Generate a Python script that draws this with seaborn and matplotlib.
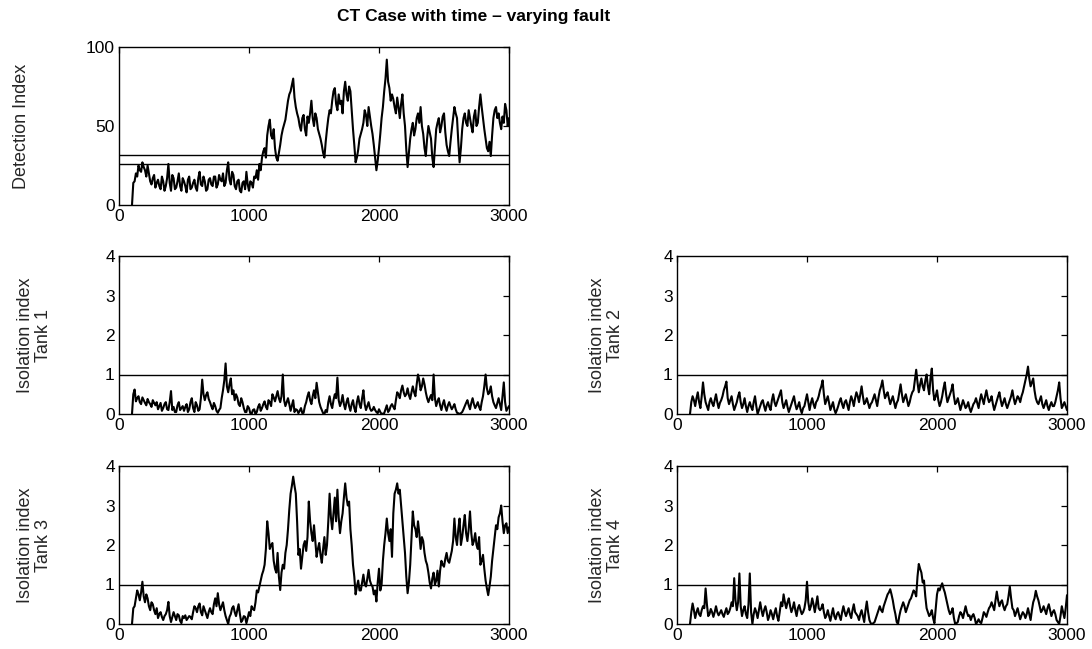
import numpy as np
import pandas as pd
import matplotlib
matplotlib.use("Agg")
import matplotlib.pyplot as plt
import seaborn as sns

# sample index of the stored values: one value every 20 samples plus one
# in between (the other side of the noise band)
samples = np.arange(100, 3001, 20)
mid_samples = np.arange(110, 3000, 20)

detection = [
    0, 15, 18, 22, 27, 22, 25, 15, 17, 11,
    16, 10, 15, 12, 26, 9, 17, 11, 20, 9,
    15, 8, 18, 11, 16, 9, 21, 12, 15, 10,
    17, 12, 18, 13, 16, 20, 14, 27, 13, 19,
    10, 16, 8, 15, 21, 9, 14, 18, 22, 26,
    30, 36, 44, 54, 42, 36, 28, 38, 48, 54,
    66, 72, 80, 62, 55, 47, 57, 44, 52, 66,
    50, 55, 45, 38, 30, 48, 60, 66, 74, 60,
    64, 58, 78, 66, 72, 48, 27, 35, 45, 52,
    57, 62, 50, 38, 22, 36, 55, 72, 92, 74,
    70, 62, 68, 55, 70, 50, 24, 42, 52, 48,
    58, 62, 45, 31, 50, 42, 24, 48, 55, 50,
    58, 38, 31, 48, 62, 55, 27, 48, 58, 50,
    55, 46, 60, 52, 70, 55, 42, 34, 31, 55,
    62, 58, 48, 52, 60, 55,
]
detection_mid = [
    14, 20, 25, 21, 24, 18, 20, 13, 19, 14,
    12, 18, 9, 17, 14, 19, 10, 15, 12, 17,
    12, 16, 10, 14, 11, 17, 13, 18, 9, 16,
    13, 18, 11, 19, 15, 12, 22, 16, 21, 12,
    15, 9, 14, 10, 13, 15, 11, 17, 16, 22,
    34, 30, 50, 44, 48, 30, 33, 44, 51, 60,
    70, 76, 68, 58, 50, 55, 48, 56, 58, 55,
    58, 48, 42, 33, 40, 55, 58, 72, 64, 70,
    66, 72, 70, 75, 60, 38, 30, 42, 48, 60,
    50, 56, 45, 30, 28, 45, 62, 80, 78, 66,
    67, 58, 62, 64, 58, 35, 33, 48, 44, 55,
    52, 50, 36, 42, 46, 30, 36, 52, 46, 56,
    46, 34, 40, 55, 58, 40, 36, 55, 52, 60,
    50, 56, 50, 62, 62, 48, 36, 40, 44, 60,
    55, 52, 56, 64, 50,
]
detection_limits = [31.8, 25.8]

tank1 = [
    0, 0.62, 0.40, 0.30, 0.42, 0.28, 0.38, 0.25, 0.35, 0.22,
    0.12, 0.28, 0.15, 0.30, 0.10, 0.58, 0.18, 0.05, 0.30, 0.15,
    0.08, 0.25, 0.12, 0.40, 0.05, 0.22, 0.12, 0.87, 0.35, 0.55,
    0.30, 0.12, 0.20, 0.03, 0.15, 0.60, 1.28, 0.55, 0.90, 0.60,
    0.50, 0.25, 0.40, 0.15, 0.05, 0.15, 0.00, 0.12, 0.05, 0.25,
    0.15, 0.32, 0.12, 0.30, 0.50, 0.32, 0.58, 0.30, 1.00, 0.20,
    0.40, 0.08, 0.35, 0.12, 0.02, 0.15, 0.03, 0.30, 0.55, 0.25,
    0.60, 0.79, 0.30, 0.10, 0.00, 0.05, 0.45, 0.15, 0.50, 0.92,
    0.20, 0.48, 0.12, 0.40, 0.08, 0.35, 0.05, 0.45, 0.15, 0.60,
    0.10, 0.30, 0.08, 0.18, 0.05, 0.12, 0.00, 0.02, 0.22, 0.10,
    0.25, 0.12, 0.55, 0.40, 0.72, 0.45, 0.65, 0.38, 0.70, 0.45,
    1.00, 0.60, 0.90, 0.55, 0.30, 0.48, 1.00, 0.20, 0.40, 0.10,
    0.35, 0.08, 0.30, 0.12, 0.25, 0.03, 0.00, 0.05, 0.20, 0.35,
    0.12, 0.40, 0.15, 0.30, 0.10, 0.45, 1.00, 0.50, 0.70, 0.30,
    0.15, 0.40, 0.10, 0.80, 0.08, 0.20,
]
tank1_mid = [
    0.50, 0.32, 0.45, 0.25, 0.35, 0.22, 0.30, 0.18, 0.28, 0.30,
    0.20, 0.08, 0.25, 0.12, 0.30, 0.10, 0.05, 0.22, 0.10, 0.20,
    0.18, 0.05, 0.30, 0.15, 0.30, 0.08, 0.40, 0.50, 0.48, 0.38,
    0.20, 0.28, 0.08, 0.10, 0.40, 0.85, 0.70, 0.75, 0.50, 0.35,
    0.42, 0.20, 0.30, 0.05, 0.20, 0.02, 0.10, 0.00, 0.18, 0.08,
    0.25, 0.18, 0.35, 0.20, 0.42, 0.45, 0.40, 0.45, 0.35, 0.30,
    0.25, 0.22, 0.05, 0.10, 0.08, 0.02, 0.20, 0.45, 0.35, 0.45,
    0.40, 0.55, 0.18, 0.02, 0.10, 0.30, 0.25, 0.35, 0.40, 0.35,
    0.30, 0.25, 0.30, 0.20, 0.25, 0.15, 0.30, 0.25, 0.40, 0.25,
    0.20, 0.15, 0.10, 0.10, 0.02, 0.05, 0.01, 0.12, 0.05, 0.20,
    0.18, 0.35, 0.50, 0.60, 0.55, 0.50, 0.48, 0.55, 0.55, 0.75,
    0.85, 0.70, 0.75, 0.40, 0.40, 0.35, 0.40, 0.32, 0.22, 0.25,
    0.18, 0.22, 0.20, 0.18, 0.12, 0.02, 0.02, 0.12, 0.28, 0.22,
    0.28, 0.25, 0.22, 0.18, 0.30, 0.70, 0.65, 0.55, 0.45, 0.22,
    0.28, 0.25, 0.45, 0.30, 0.14,
]

tank2 = [
    0, 0.45, 0.20, 0.55, 0.15, 0.80, 0.30, 0.10, 0.40, 0.20,
    0.50, 0.15, 0.35, 0.60, 0.82, 0.25, 0.45, 0.10, 0.30, 0.55,
    0.15, 0.40, 0.05, 0.30, 0.10, 0.45, 0.00, 0.20, 0.35, 0.08,
    0.30, 0.10, 0.50, 0.20, 0.40, 0.60, 0.15, 0.35, 0.05, 0.25,
    0.45, 0.12, 0.30, 0.02, 0.20, 0.50, 0.10, 0.40, 0.15, 0.35,
    0.60, 0.85, 0.25, 0.45, 0.10, 0.30, 0.02, 0.20, 0.40, 0.15,
    0.35, 0.10, 0.45, 0.20, 0.55, 0.30, 0.70, 0.25, 0.40, 0.15,
    0.30, 0.50, 0.20, 0.60, 0.85, 0.40, 0.55, 0.25, 0.45, 0.15,
    0.35, 0.75, 0.30, 0.50, 0.20, 0.45, 0.60, 1.12, 0.55, 0.90,
    0.60, 1.00, 0.50, 1.15, 0.35, 0.60, 0.20, 0.45, 0.80, 0.30,
    0.50, 0.75, 0.25, 0.40, 0.10, 0.35, 0.15, 0.30, 0.05, 0.25,
    0.40, 0.15, 0.50, 0.25, 0.60, 0.30, 0.45, 0.10, 0.35, 0.55,
    0.20, 0.40, 0.15, 0.35, 0.60, 0.25, 0.45, 0.30, 0.55, 0.85,
    1.20, 0.70, 0.90, 0.40, 0.25, 0.45, 0.15, 0.35, 0.10, 0.30,
    0.20, 0.45, 0.80, 0.15, 0.30, 0.10,
]
tank2_mid = [
    0.30, 0.35, 0.40, 0.30, 0.45, 0.50, 0.20, 0.30, 0.28, 0.35,
    0.30, 0.28, 0.45, 0.70, 0.40, 0.35, 0.25, 0.20, 0.45, 0.30,
    0.25, 0.20, 0.20, 0.18, 0.30, 0.20, 0.10, 0.30, 0.20, 0.22,
    0.18, 0.35, 0.30, 0.30, 0.50, 0.30, 0.25, 0.18, 0.15, 0.35,
    0.25, 0.20, 0.12, 0.15, 0.35, 0.30, 0.28, 0.25, 0.30, 0.45,
    0.70, 0.50, 0.35, 0.28, 0.20, 0.12, 0.10, 0.32, 0.25, 0.30,
    0.22, 0.30, 0.35, 0.40, 0.45, 0.50, 0.45, 0.30, 0.28, 0.25,
    0.40, 0.35, 0.42, 0.70, 0.60, 0.48, 0.40, 0.35, 0.30, 0.28,
    0.55, 0.50, 0.40, 0.35, 0.30, 0.55, 0.85, 0.80, 0.75, 0.70,
    0.85, 0.70, 0.90, 0.60, 0.45, 0.35, 0.30, 0.65, 0.50, 0.40,
    0.60, 0.45, 0.30, 0.25, 0.22, 0.25, 0.20, 0.15, 0.15, 0.30,
    0.28, 0.35, 0.38, 0.45, 0.42, 0.35, 0.25, 0.22, 0.45, 0.35,
    0.30, 0.25, 0.25, 0.45, 0.40, 0.35, 0.40, 0.45, 0.70, 1.00,
    0.90, 0.80, 0.60, 0.30, 0.35, 0.25, 0.25, 0.20, 0.22, 0.20,
    0.30, 0.60, 0.40, 0.22, 0.20,
]

tank3 = [
    0.00, 0.45, 0.85, 0.60, 1.07, 0.55, 0.65, 0.35, 0.50, 0.25,
    0.15, 0.30, 0.10, 0.25, 0.56, 0.05, 0.30, 0.10, 0.22, 0.02,
    0.15, 0.10, 0.20, 0.12, 0.45, 0.30, 0.52, 0.22, 0.35, 0.15,
    0.40, 0.25, 0.65, 0.78, 0.35, 0.55, 0.20, 0.00, 0.25, 0.45,
    0.20, 0.50, 0.05, 0.20, 0.02, 0.30, 0.45, 0.35, 0.85, 0.95,
    1.25, 1.50, 2.60, 1.90, 2.05, 1.40, 1.80, 0.86, 1.50, 1.80,
    2.40, 3.30, 3.73, 3.30, 1.75, 1.40, 2.00, 1.85, 3.10, 2.30,
    2.50, 1.70, 2.05, 1.55, 2.20, 2.00, 3.30, 2.40, 3.20, 3.40,
    2.30, 2.80, 3.56, 3.00, 2.40, 1.50, 0.75, 1.10, 0.85, 1.25,
    0.95, 1.37, 1.00, 0.75, 0.57, 1.40, 1.00, 2.00, 2.67, 2.10,
    1.70, 3.30, 3.56, 3.40, 2.60, 1.80, 0.78, 1.50, 2.85, 2.40,
    2.60, 1.90, 2.10, 1.60, 1.30, 0.90, 1.30, 1.10, 0.95, 1.60,
    1.45, 1.80, 1.55, 1.85, 2.67, 2.00, 2.67, 2.20, 2.76, 2.10,
    2.85, 2.00, 2.30, 1.90, 1.50, 1.75, 1.10, 0.73, 1.20, 1.90,
    2.50, 2.70, 3.00, 2.30, 2.55, 2.45,
]
tank3_mid = [
    0.40, 0.65, 0.75, 0.80, 0.70, 0.75, 0.45, 0.55, 0.35, 0.40,
    0.25, 0.18, 0.20, 0.35, 0.20, 0.18, 0.20, 0.25, 0.08, 0.20,
    0.22, 0.15, 0.18, 0.30, 0.40, 0.45, 0.30, 0.45, 0.25, 0.30,
    0.30, 0.50, 0.45, 0.50, 0.45, 0.35, 0.10, 0.18, 0.40, 0.30,
    0.35, 0.25, 0.10, 0.18, 0.15, 0.20, 0.38, 0.55, 0.80, 1.10,
    1.35, 1.90, 2.30, 2.00, 1.60, 1.30, 1.20, 1.30, 1.40, 2.00,
    2.90, 3.50, 3.50, 2.60, 1.90, 1.70, 2.10, 2.20, 2.60, 2.10,
    2.10, 1.90, 1.75, 1.90, 1.75, 2.60, 2.70, 2.80, 2.60, 2.70,
    2.60, 3.20, 3.20, 3.10, 2.00, 1.20, 0.95, 0.85, 1.05, 1.00,
    1.15, 1.10, 0.95, 0.85, 1.05, 0.85, 1.60, 2.30, 2.30, 2.40,
    2.80, 3.40, 3.30, 3.00, 2.20, 1.20, 1.05, 2.20, 2.50, 2.20,
    2.30, 2.20, 1.80, 1.50, 1.05, 1.15, 1.00, 1.35, 1.35, 1.50,
    1.65, 1.60, 1.70, 2.10, 2.20, 2.40, 2.00, 2.50, 2.30, 2.40,
    2.30, 2.10, 2.00, 2.20, 1.60, 1.40, 0.90, 0.95, 1.60, 2.20,
    2.40, 2.80, 2.60, 2.50, 2.30,
]

tank4 = [
    0.00, 0.52, 0.15, 0.40, 0.20, 0.45, 0.90, 0.20, 0.38, 0.18,
    0.45, 0.22, 0.35, 0.18, 0.40, 0.30, 0.55, 1.16, 0.35, 1.28,
    0.20, 0.45, 0.15, 1.28, 0.00, 0.40, 0.15, 0.55, 0.20, 0.45,
    0.10, 0.35, 0.12, 0.40, 0.08, 0.55, 0.75, 0.40, 0.65, 0.30,
    0.55, 0.20, 0.48, 0.25, 0.40, 1.07, 0.35, 0.65, 0.30, 0.70,
    0.35, 0.50, 0.15, 0.35, 0.08, 0.40, 0.12, 0.30, 0.10, 0.45,
    0.20, 0.40, 0.15, 0.50, 0.25, 0.10, 0.35, 0.05, 0.57, 0.10,
    0.00, 0.05, 0.25, 0.45, 0.30, 0.55, 0.75, 0.88, 0.60, 0.25,
    0.00, 0.35, 0.55, 0.30, 0.50, 0.65, 0.85, 0.70, 1.52, 1.30,
    1.10, 0.40, 0.20, 0.35, 0.02, 0.75, 0.85, 1.03, 0.80, 0.50,
    0.25, 0.40, 0.00, 0.05, 0.30, 0.15, 0.45, 0.20, 0.10, 0.25,
    0.00, 0.12, 0.02, 0.30, 0.18, 0.40, 0.55, 0.35, 0.82, 0.45,
    0.60, 0.35, 0.50, 0.95, 0.40, 0.20, 0.40, 0.12, 0.30, 0.15,
    0.40, 0.10, 0.55, 0.84, 0.60, 0.30, 0.45, 0.25, 0.50, 0.20,
    0.35, 0.10, 0.00, 0.45, 0.15, 0.73,
]
tank4_mid = [
    0.30, 0.35, 0.30, 0.25, 0.35, 0.40, 0.50, 0.25, 0.30, 0.30,
    0.30, 0.28, 0.25, 0.30, 0.25, 0.40, 0.45, 0.60, 0.55, 0.45,
    0.35, 0.25, 0.50, 0.30, 0.25, 0.30, 0.35, 0.35, 0.35, 0.30,
    0.20, 0.25, 0.28, 0.20, 0.30, 0.45, 0.55, 0.55, 0.45, 0.40,
    0.35, 0.40, 0.35, 0.30, 0.60, 0.55, 0.45, 0.50, 0.50, 0.40,
    0.40, 0.30, 0.22, 0.20, 0.25, 0.20, 0.25, 0.20, 0.30, 0.30,
    0.30, 0.25, 0.35, 0.30, 0.20, 0.25, 0.20, 0.35, 0.30, 0.02,
    0.02, 0.15, 0.35, 0.35, 0.45, 0.65, 0.80, 0.75, 0.40, 0.05,
    0.20, 0.45, 0.45, 0.40, 0.60, 0.75, 0.80, 1.20, 1.40, 1.05,
    0.70, 0.30, 0.25, 0.15, 0.40, 0.90, 0.95, 0.90, 0.65, 0.35,
    0.30, 0.15, 0.02, 0.20, 0.25, 0.30, 0.30, 0.22, 0.20, 0.15,
    0.05, 0.05, 0.15, 0.25, 0.30, 0.45, 0.45, 0.60, 0.60, 0.55,
    0.45, 0.45, 0.70, 0.65, 0.35, 0.30, 0.25, 0.22, 0.25, 0.25,
    0.25, 0.35, 0.65, 0.70, 0.45, 0.35, 0.35, 0.40, 0.35, 0.30,
    0.25, 0.05, 0.20, 0.30, 0.40,
]
isolation_limit = 1.0

x_ticks = [0, 1000, 2000, 3000]
title_text = "CT Case with time \u2013 varying fault"
detection_label = "Detection Index"
tank_labels = ["Isolation index\nTank 1", "Isolation index\nTank 2",
               "Isolation index\nTank 3", "Isolation index\nTank 4"]

sns.set_theme(style="white")
plt.rcParams["font.family"] = ["Liberation Sans", "DejaVu Sans"]
plt.rcParams["axes.edgecolor"] = "black"
plt.rcParams["axes.linewidth"] = 1.0

W, H = 1092, 649
fig = plt.figure(figsize=(W / 100, H / 100), dpi=100)
fig.patch.set_facecolor("white")


def rect(x0, y0, x1, y1):
    return [x0 / W, 1 - y1 / H, (x1 - x0) / W, (y1 - y0) / H]


label_font = dict(family=["Liberation Sans Narrow", "Liberation Sans", "DejaVu Sans"],
                  fontsize=13)


def style_axes(ax, ylim, yticks):
    ax.set_xlim(0, 3000)
    ax.set_ylim(*ylim)
    ax.set_xticks(x_ticks)
    ax.set_yticks(yticks)
    ax.tick_params(direction="in", top=True, right=True, length=4, width=0.9,
                   labelsize=12.5, colors="black", pad=3)
    for s in ax.spines.values():
        s.set_visible(True)
        s.set_color("black")
        s.set_linewidth(1.0)
    ax.set_xlabel("")


def draw_series(ax, values, mid_values):
    df = pd.DataFrame({
        "sample": np.concatenate([samples, mid_samples]),
        "value": np.concatenate([values, mid_values]),
    }).sort_values("sample")
    sns.lineplot(data=df, x="sample", y="value", ax=ax, color="black",
                 linewidth=1.5, estimator=None, legend=False)


# detection index
ax0 = fig.add_axes(rect(119, 47, 509, 205))
draw_series(ax0, detection, detection_mid)
for lim in detection_limits:
    ax0.axhline(lim, color="black", linewidth=1.0)
style_axes(ax0, (0, 100), [0, 50, 100])
ax0.set_ylabel(detection_label, **label_font)
ax0.yaxis.set_label_coords(-0.229, 0.5)

# isolation indices
boxes = [(119, 256, 509, 414), (677, 256, 1067, 414),
         (119, 466, 509, 624), (677, 466, 1067, 624)]
label_x = [-0.172, -0.136, -0.172, -0.136]
series = [(tank1, tank1_mid), (tank2, tank2_mid),
          (tank3, tank3_mid), (tank4, tank4_mid)]
for box, (values, mids), lab, lx in zip(boxes, series, tank_labels, label_x):
    ax = fig.add_axes(rect(*box))
    draw_series(ax, values, mids)
    ax.axhline(isolation_limit, color="black", linewidth=1.0)
    style_axes(ax, (0, 4), [0, 1, 2, 3, 4])
    ax.set_ylabel(lab, **label_font, linespacing=1.1)
    ax.yaxis.set_label_coords(lx, 0.5)

fig.text(337 / W, 1 - 17 / H, title_text, ha="left", va="center",
         fontsize=12.5, fontweight="bold", color="black")

fig.savefig("out.png", dpi=100, facecolor="white")
